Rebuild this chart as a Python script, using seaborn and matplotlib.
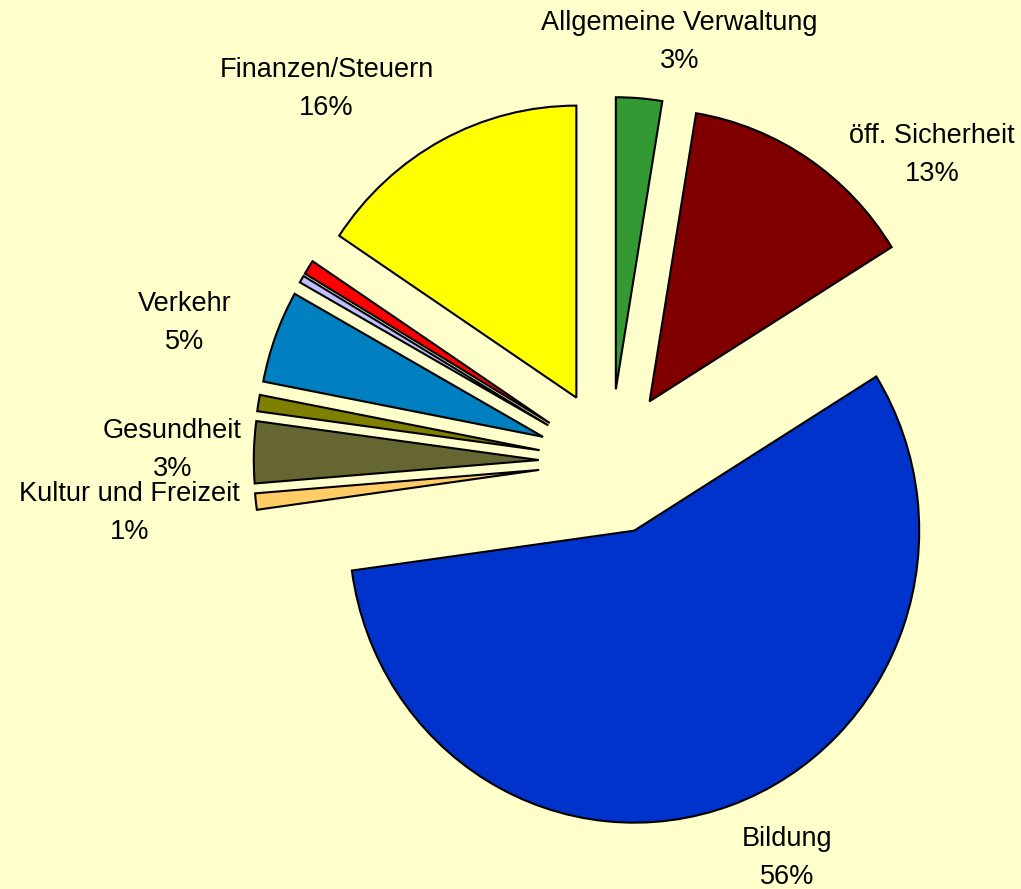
import numpy as np
import matplotlib
matplotlib.use("Agg")
import matplotlib.pyplot as plt
import seaborn as sns

# ---- data (clockwise from 12 o'clock) ----
categories = ["Allgemeine Verwaltung", "öff. Sicherheit", "Bildung",
              "Kultur und Freizeit", "Gesundheit", "", "Verkehr", "", "",
              "Finanzen/Steuern"]
values = [2.6, 13.5, 56.5, 0.9, 3.4, 0.9, 5.1, 0.4, 0.8, 15.6]
percent_labels = ["3%", "13%", "56%", "1%", "3%", "", "5%", "", "", "16%"]

# ---- style ----
colors = ["#339933", "#800000", "#0033CC", "#FFCC66", "#666633",
          "#808000", "#0080C0", "#C0C0FF", "#FF0000", "#FFFF00"]
bg = "#FFFFCC"
# label placement relative to each wedge apex: (distance in radii, angle offset deg)
label_place = [(1.21, -5.9), (1.302, -15.8), (1.242, 5.8), (1.446, -0.35),
               (1.2855, 0.05), None, (1.318, 2.9), None, None, (1.3735, 11.5)]

sns.set_theme(style="white")
plt.rcParams["font.family"] = ["Liberation Sans", "DejaVu Sans"]
palette = sns.color_palette(colors)

fig = plt.figure(figsize=(10.21, 8.89), dpi=100, facecolor=bg)
ax = fig.add_axes([0, 0, 1, 1])
ax.set_facecolor(bg)

labels = [f"{c}\n{p}" if c else "" for c, p in zip(categories, percent_labels)]
explode = [0.25] * len(values)
wedges, texts = ax.pie(values, labels=labels, colors=palette, startangle=90,
                       counterclock=False, explode=explode, radius=1.0,
                       wedgeprops=dict(edgecolor="black", linewidth=1.5),
                       textprops=dict(fontsize=19.5, color="black",
                                      ha="center", va="center",
                                      multialignment="center",
                                      linespacing=1.6))

for w, t, place in zip(wedges, texts, label_place):
    if place is None:
        t.set_visible(False)
        continue
    theta = np.deg2rad((w.theta1 + w.theta2) / 2)
    cx, cy = w.center
    d, off = place
    a = theta + np.deg2rad(off)
    t.set_position((cx + d * np.cos(a), cy + d * np.sin(a)))

RX, RY = 285.0, 292.0
ax.set_xlim(-610 / RX, (1021 - 610) / RX)
ax.set_ylim(-(889 - 462) / RY, 462 / RY)
ax.set_aspect("auto")
ax.axis("off")

fig.savefig("out.png", dpi=100, facecolor=bg)
